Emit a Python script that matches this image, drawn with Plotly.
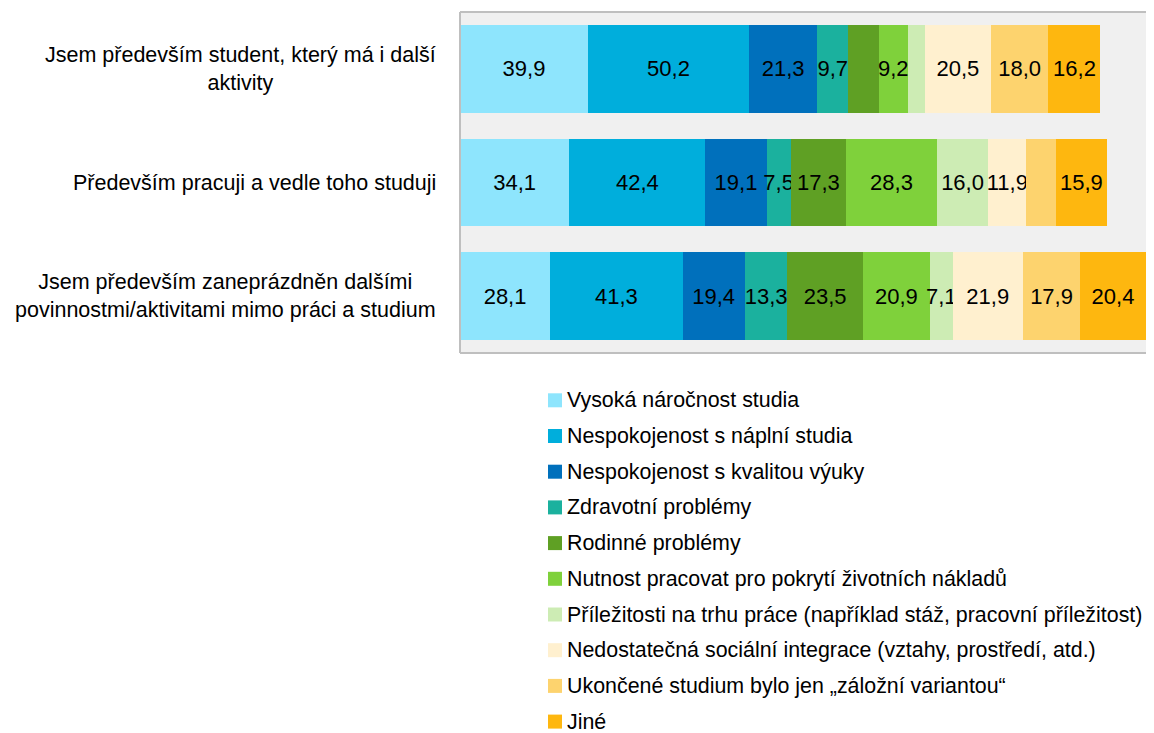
import plotly.graph_objects as go

# ── Data ───────────────────────────────────────────────────────────────────
categories = [
    "Jsem především student, který má i další<br>aktivity",
    "Především pracuji a vedle toho studuji",
    "Jsem především zaneprázdněn dalšími<br>povinnostmi/aktivitami mimo práci a studium",
]

series_names = [
    "Vysoká náročnost studia",
    "Nespokojenost s náplní studia",
    "Nespokojenost s kvalitou výuky",
    "Zdravotní problémy",
    "Rodinné problémy",
    "Nutnost pracovat pro pokrytí životních nákladů",
    "Příležitosti na trhu práce (například stáž, pracovní příležitost)",
    "Nedostatečná sociální integrace (vztahy, prostředí, atd.)",
    "Ukončené studium bylo jen „záložní variantou“",
    "Jiné",
]

# values per series, in category order (unlabelled segments estimated)
vysoka      = [39.9, 34.1, 28.1]
naplne      = [50.2, 42.4, 41.3]
kvalita     = [21.3, 19.1, 19.4]
zdravotni   = [9.7, 7.5, 13.3]
rodinne     = [9.4, 17.3, 23.5]
nutnost     = [9.2, 28.3, 20.9]
prilezitost = [5.3, 16.0, 7.1]
integrace   = [20.5, 11.9, 21.9]
zalozni     = [18.0, 9.2, 17.9]
jine        = [16.2, 15.9, 20.4]

# which segments carry a data label in the original
show_labels = [
    [True, True, True],
    [True, True, True],
    [True, True, True],
    [True, True, True],
    [False, True, True],
    [True, True, True],
    [False, True, True],
    [True, True, True],
    [True, False, True],
    [True, True, True],
]

colors = ["#8EE5FD", "#00AEDC", "#0070BC", "#1BB19E", "#5FA024",
          "#7FD13B", "#CDECB4", "#FFF0CF", "#FDD36E", "#FEB70F"]

all_values = [vysoka, naplne, kvalita, zdravotni, rodinne,
              nutnost, prilezitost, integrace, zalozni, jine]

FONT = "Liberation Sans, Arial, sans-serif"

# ── Layout geometry ────────────────────────────────────────────────────────
# page body has an 8px margin, so the figure is drawn 8px in from the corner
OFF = 8
W, H = 1154 - OFF, 733 - OFF
PLOT_L, PLOT_T, PLOT_B = 460, 12, 353          # in screenshot pixels
M_L, M_R = PLOT_L - OFF, 0
M_T, M_B = PLOT_T - OFF, H - (PLOT_B - OFF)
PW, PH = W - M_L - M_R, H - M_T - M_B


def px_x(x):
    return (x - OFF - M_L) / PW


def px_y(y):
    return (H - M_B - (y - OFF)) / PH


# ── Figure ─────────────────────────────────────────────────────────────────
fig = go.Figure()
for name, vals, col, lab in zip(series_names, all_values, colors, show_labels):
    texts = [f"{v:.1f}".replace(".", ",") if s else "" for v, s in zip(vals, lab)]
    fig.add_trace(go.Bar(
        y=list(range(len(categories))), x=vals, name=name, orientation="h",
        marker=dict(color=col, line=dict(width=0)),
        text=texts, textposition="inside", insidetextanchor="middle",
        textangle=0, constraintext="none",
        textfont=dict(color="black", size=22, family=FONT),
        hoverinfo="skip", showlegend=False,
    ))

# category labels, centred text blocks left of the plot
for i, cat in enumerate(categories):
    fig.add_annotation(
        x=px_x(438), xref="paper", y=i, yref="y",
        text=cat, showarrow=False, xanchor="right", align="center",
        font=dict(size=21.5, color="black", family=FONT),
    )

# plot-area frame (top, left, bottom; right side runs off the picture)
frame = dict(color="#BFBFBF", width=2)
fig.add_shape(type="line", xref="paper", yref="paper", x0=0, x1=1, y0=1, y1=1, line=frame)
fig.add_shape(type="line", xref="paper", yref="paper", x0=0, x1=1, y0=0, y1=0, line=frame)
fig.add_shape(type="line", xref="paper", yref="paper", x0=0, x1=0, y0=0, y1=1, line=frame)

# legend below the plot, one entry per line
LEG_X, LEG_Y0, LEG_DY, SQ = 548, 400.3, 35.7, 14
for k, (name, col) in enumerate(zip(series_names, colors)):
    yc = LEG_Y0 + k * LEG_DY
    fig.add_shape(type="rect", xref="paper", yref="paper",
                  x0=px_x(LEG_X), x1=px_x(LEG_X + SQ),
                  y0=px_y(yc + SQ / 2), y1=px_y(yc - SQ / 2),
                  fillcolor=col, line=dict(width=0))
    fig.add_annotation(
        x=px_x(LEG_X + SQ + 3), xref="paper", y=px_y(yc), yref="paper",
        text=name, showarrow=False, xanchor="left", yanchor="middle",
        font=dict(size=21.4, color="black", family=FONT),
    )

fig.update_layout(
    barmode="stack", bargap=0.23,
    width=W, height=H,
    margin=dict(l=M_L, r=M_R, t=M_T, b=M_B),
    paper_bgcolor="white", plot_bgcolor="#F0F0F0",
    font=dict(family=FONT, size=22, color="black"),
    uniformtext=dict(mode="show", minsize=22),
    xaxis=dict(range=[0, 216.4], visible=False, fixedrange=True),
    yaxis=dict(autorange="reversed", showticklabels=False, showgrid=False,
               zeroline=False, fixedrange=True),
    showlegend=False,
)

fig.write_html("out.html")
